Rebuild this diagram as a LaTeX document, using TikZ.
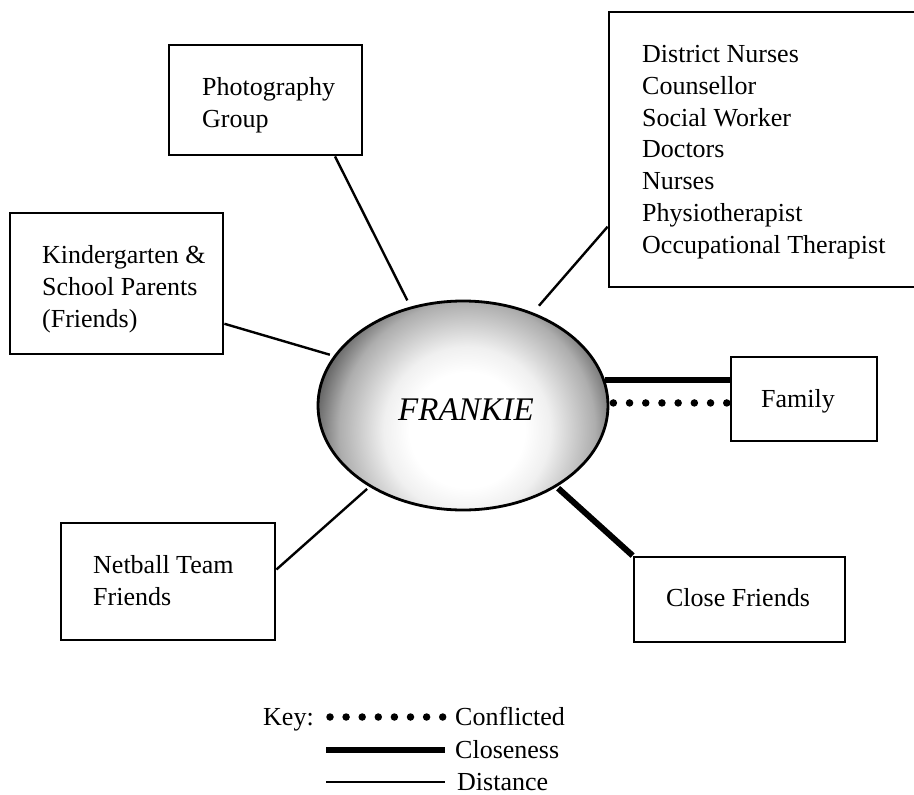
\documentclass[tikz,border=0pt]{standalone}
\usepackage{fontspec}
\setmainfont{Liberation Serif}
\usetikzlibrary{shapes.geometric,calc}
\pgfdeclareradialshading{ballshade}{\pgfpoint{0bp}{0bp}}{color(0bp)=(white); color(9bp)=(white); color(13bp)=(black!6); color(20bp)=(black!32); color(24bp)=(black!62); color(25bp)=(black!66); color(50bp)=(black!66)}
\begin{document}
\begin{tikzpicture}[x=1pt,y=-1pt,
  box/.style={draw, line width=2.8pt, rectangle, inner sep=0pt},
  lbl/.style={font=\fontsize{26}{31.7}\selectfont, align=left, inner sep=0pt},
  linkthin/.style={line width=2.4pt},
  linkclose/.style={line width=6pt},
  linkconflict/.style={line width=7.5pt, line cap=round, dash pattern=on 0pt off 16.2pt}]
\useasboundingbox (0,0) rectangle (914,795);
\clip (0,0) rectangle (914,795);
\fill[white] (0,0) rectangle (914,795);

% shaded ball
\begin{scope}
  \clip (463,405.5) ellipse [x radius=145, y radius=104.5];
  \shade[shading=ballshade] (467,430) circle [radius=160];
\end{scope}
\node[ellipse, draw, line width=2.8pt, minimum width=290pt, minimum height=209pt, inner sep=0pt] (frankie) at (463,405.5) {};
\node[font=\fontsize{33}{40}\selectfont\itshape, anchor=base, inner sep=0pt] (frankietext) at (466,420) {FRANKIE};

% boxes
\node[box, minimum width=193pt, minimum height=110pt] (photo) at (265.5,100) {};
\node[lbl, anchor=base west] (phototext) at (202,127) {Photography\\Group};

\node[box, minimum width=321pt, minimum height=275pt] (health) at (769.5,149.5) {};
\node[lbl, anchor=base west] (healthtext) at (642,253) {District Nurses\\Counsellor\\Social Worker\\Doctors\\Nurses\\Physiotherapist\\Occupational Therapist};

\node[box, minimum width=213pt, minimum height=141pt] (kinder) at (116.5,283.5) {};
\node[lbl, anchor=base west] (kindertext) at (42,327) {Kindergarten \&\\School Parents\\(Friends)};

\node[box, minimum width=214pt, minimum height=117pt] (netball) at (168,581.5) {};
\node[lbl, anchor=base west] (netballtext) at (93,605) {Netball Team\\Friends};

\node[box, minimum width=146pt, minimum height=84pt] (family) at (804,399) {};
\node[lbl, anchor=base] (familytext) at (798,407) {Family};

\node[box, minimum width=211pt, minimum height=85pt] (closef) at (739.5,599.5) {};
\node[lbl, anchor=base] (closetext) at (738,606) {Close Friends};

% connectors
\draw[linkthin, shorten >=7pt] ($(photo.south west)!0.855!(photo.south east)$) -- (frankie.118.5);
\draw[linkthin, shorten >=9pt] ($(health.north west)!0.778!(health.south west)$) -- (frankie.53.5);
\draw[linkthin, shorten >=4pt] ($(kinder.north east)!0.78!(kinder.south east)$) -- (frankie.159);
\draw[linkthin, shorten >=3pt] ($(netball.north east)!0.40!(netball.south east)$) -- (frankie.221.8);
\draw[linkclose, shorten <=2pt] (frankie.-41.3) -- (closef.north west);
\draw[linkclose] (frankie.10.7) -- (frankie.10.7 -| family.west);
\draw[linkconflict, shorten <=4pt, shorten >=1.5pt] (frankie.1) -- (frankie.1 -| family.west);

% key
\node[lbl, anchor=base west] (keylabel) at (263,725) {Key:};
\node[lbl, anchor=base west] (conflicted) at (455,725) {Conflicted};
\node[lbl, anchor=base west] (closeness) at (455,758) {Closeness};
\node[lbl, anchor=base west] (distance) at (457,790) {Distance};
\coordinate (k1) at (330,717);
\coordinate (k2) at (326,750);
\coordinate (k3) at (326,782);
\draw[linkconflict, dash pattern=on 0pt off 16.1pt, shorten >=12pt] (k1) -- (k1 -| conflicted.west);
\draw[linkclose, shorten >=10pt] (k2) -- (k2 -| closeness.west);
\draw[linkthin, shorten >=12pt] (k3) -- (k3 -| distance.west);
\end{tikzpicture}
\end{document}
